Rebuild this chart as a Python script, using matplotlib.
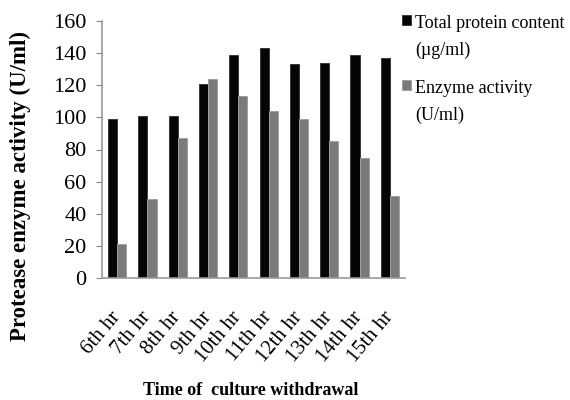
import numpy as np
import matplotlib
matplotlib.use("Agg")
import matplotlib.pyplot as plt
from matplotlib.patches import Rectangle

plt.rcParams['font.family'] = ['Liberation Serif', 'DejaVu Serif']

hours = ["6th hr", "7th hr", "8th hr", "9th hr", "10th hr",
         "11th hr", "12th hr", "13th hr", "14th hr", "15th hr"]
protein = [99, 101, 101, 121, 139, 143, 133, 134, 139, 137]
enzyme = [21, 49, 87, 124, 113, 104, 99, 85, 75, 51]

W, H = 570, 400
fig = plt.figure(figsize=(5.7, 4.0), dpi=100)
ax = fig.add_axes([102 / W, 1 - 278 / H, 303 / W, 257 / H])

x = np.arange(len(hours))
w = 0.3
ax.bar(x - w / 2, protein, w, color='#050505', edgecolor='#3a3a3a', linewidth=0.7)
ax.bar(x + w / 2, enzyme, w, color='#7a7a7a', edgecolor='#a0a0a0', linewidth=0.7)

ax.set_xlim(-0.5, len(hours) - 0.5)
ax.set_ylim(0, 160)
ax.set_yticks(np.arange(0, 161, 20))
ax.tick_params(axis='y', labelsize=16, length=4, color='#888888', pad=7)
ax.tick_params(axis='x', length=0, labelsize=15, pad=26)
ax.set_xticks(x)
ax.set_xticklabels(hours, rotation=50, ha='right', va='center', rotation_mode='anchor')

for s in ['top', 'right']:
    ax.spines[s].set_visible(False)
for s in ['left', 'bottom']:
    ax.spines[s].set_color('#999999')
    ax.spines[s].set_linewidth(1.2)

# axis titles
fig.text(20 / W, 1 - 186 / H, "Protease enzyme activity (U/ml)", fontsize=16.5,
         fontweight='bold', rotation=90, ha='center', va='center')
fig.text(251 / W, 1 - 395 / H, "Time of  culture withdrawal", fontsize=13,
         fontweight='bold', ha='center', va='baseline')

# legend, drawn by hand so the marker sits on the first line
legend_items = [("Total protein content", "(\u00b5g/ml)", '#050505', '#3a3a3a', 28),
                ("Enzyme activity", "(U/ml)", '#7a7a7a', '#a0a0a0', 93)]
for line1, line2, fc, ec, base in legend_items:
    fig.patches.append(Rectangle((402 / W, 1 - (base - 3) / H), 9 / W, 10 / H,
                                 transform=fig.transFigure, facecolor=fc,
                                 edgecolor=ec, linewidth=0.7))
    fig.text(415 / W, 1 - base / H, line1, fontsize=13, va='baseline')
    fig.text(415 / W, 1 - (base + 27) / H, line2, fontsize=13, va='baseline')

fig.savefig("out.png", dpi=100)
